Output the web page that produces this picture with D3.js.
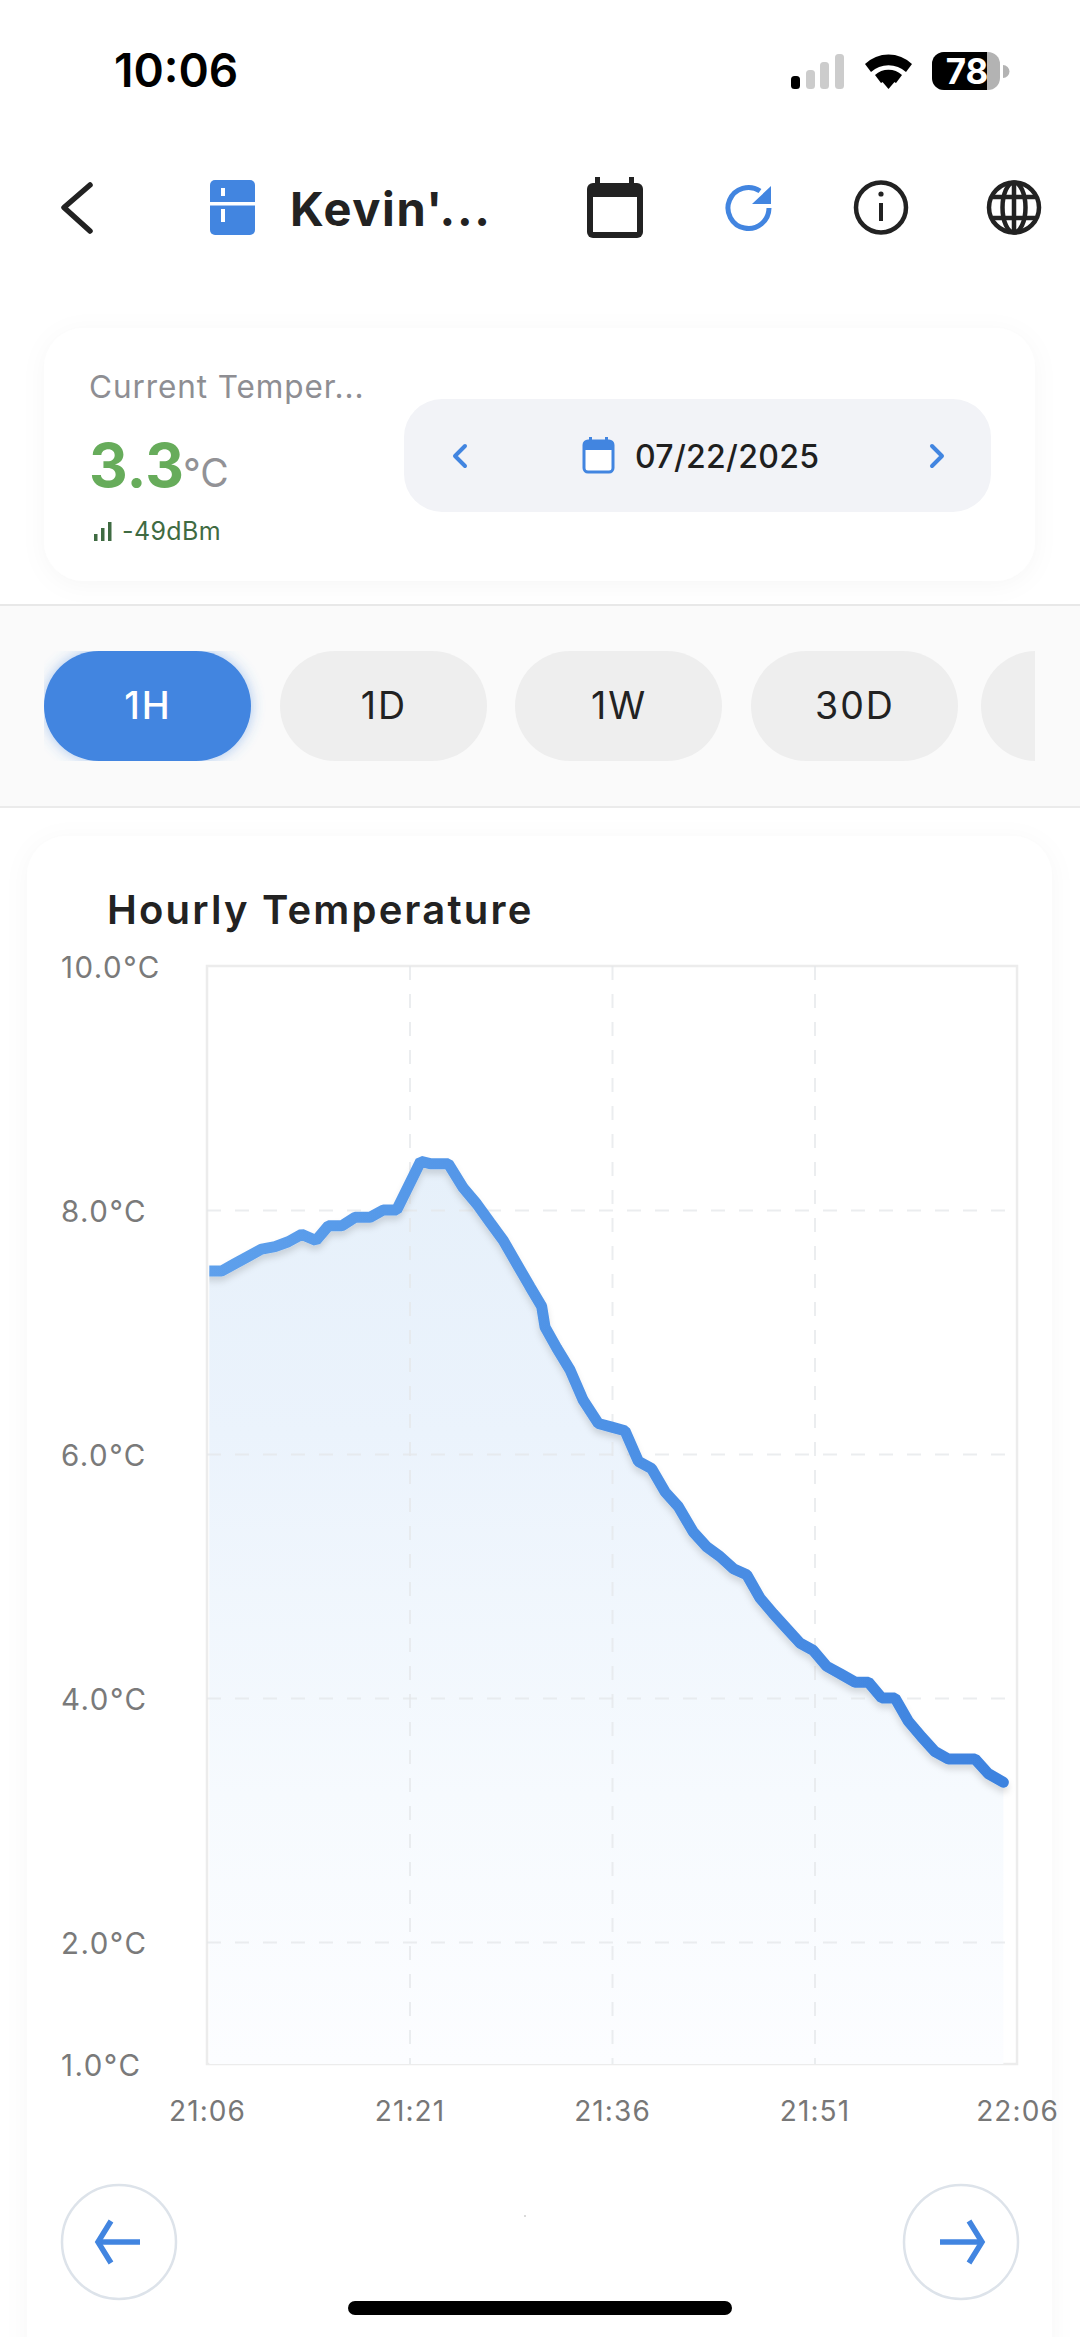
<!DOCTYPE html>
<html><head><meta charset="utf-8">
<script src="https://cdn.jsdelivr.net/npm/d3@7"></script>
<style>
html,body{margin:0;padding:0;background:#fff}
svg{display:block}
text{font-family:Inter,"Noto Sans",sans-serif}
</style></head><body>
<svg id="c" width="1080" height="2337" viewBox="0 0 1080 2337"></svg>
<script>
// ---- data ----
const minutes = [0.17,1.09,2.07,3.06,4.05,5.04,6.02,7.01,8.07,8.99,9.98,10.96,12.07,13.06,14.05,15.83,16.52,17.87,18.99,19.98,20.96,21.95,22.94,23.93,24.79,25.04,25.9,26.89,27.87,28.99,29.98,30.96,31.95,32.94,33.93,34.91,36.02,37.01,38.0,38.99,39.98,40.96,41.95,42.94,43.93,44.91,45.9,46.89,48.0,48.99,49.98,50.96,51.95,52.94,53.93,54.91,55.9,56.89,57.87,58.99];
const temps = [7.5,7.5,7.56,7.62,7.68,7.7,7.74,7.8,7.75,7.87,7.87,7.94,7.94,8.0,8.0,8.4,8.38,8.38,8.18,8.05,7.9,7.75,7.56,7.37,7.21,7.04,6.87,6.69,6.44,6.25,6.22,6.19,5.94,5.88,5.69,5.57,5.36,5.24,5.16,5.06,5.01,4.82,4.69,4.57,4.45,4.39,4.26,4.2,4.13,4.13,4.0,4.0,3.81,3.68,3.56,3.5,3.5,3.5,3.38,3.31];
const yTicks = [1,2,4,6,8,10];
const yTickLabels = ["1.0°C","2.0°C","4.0°C","6.0°C","8.0°C","10.0°C"];
const xTicks = [0,15,30,45,60];
const xTickLabels = ["21:06","21:21","21:36","21:51","22:06"];
const tabs = ["1H","1D","1W","30D",""];
const chartTitle = "Hourly Temperature";

const svg = d3.select("#c");
const BLUE = "#4285e0";
const defs = svg.append("defs");
const shadow = (id, dy, blur, op, col) => {
  const f = defs.append("filter").attr("id", id).attr("x","-20%").attr("y","-20%").attr("width","140%").attr("height","140%");
  f.append("feDropShadow").attr("dx",0).attr("dy",dy).attr("stdDeviation",blur).attr("flood-color",col||"#000").attr("flood-opacity",op);
};
shadow("cardShadow",4,12,0.035);
shadow("lineShadow",5,3,0.13);
shadow("tabGlow",0,7,0.45,BLUE);
defs.append("clipPath").attr("id","tabClip").append("rect").attr("x",44).attr("y",651).attr("width",991).attr("height",110);
defs.append("clipPath").attr("id","tabGlowClip").append("rect").attr("x",44).attr("y",651).attr("width",222).attr("height",110);

const txt = (x,y,s,size,col,w,anchor,ls) => svg.append("text").attr("x",x).attr("y",y).text(s)
  .attr("font-size",size).attr("fill",col).attr("font-weight",w||400).attr("text-anchor",anchor||"start")
  .attr("letter-spacing",ls||0);

// ---- status bar ----
txt(114,87,"10:06",46,"#000",600);
[[791,76,"#000"],[806,70,"#ccc"],[820,62,"#ccc"],[835,54,"#ccc"]].forEach(d=>
  svg.append("rect").attr("x",d[0]).attr("y",d[1]).attr("width",9).attr("height",89-d[1]).attr("rx",3.5).attr("fill",d[2]));
// wifi
svg.append("path").attr("d","M865 64 A34 34 0 0 1 912 64 L906 72 A26 26 0 0 0 871 72 Z").attr("fill","#000");
svg.append("path").attr("d","M875 75 A20 20 0 0 1 902 75 L896 83 A12 12 0 0 0 881 83 Z").attr("fill","#000");
svg.append("path").attr("d","M880 79 L897 79 L888.5 89 Z").attr("fill","#000");
// battery
svg.append("rect").attr("x",932).attr("y",52).attr("width",68).attr("height",38).attr("rx",12).attr("fill","#b3b3b3");
svg.append("path").attr("d","M944 52 H987 V90 H944 A12 12 0 0 1 932 78 V64 A12 12 0 0 1 944 52 Z").attr("fill","#000");
svg.append("path").attr("d","M1003 65 A6 6 0 0 1 1003 78 Z").attr("fill","#b3b3b3");
txt(967,84,"78",35,"#fff",700,"middle");

// ---- nav bar ----
svg.append("path").attr("d","M90 185 L64 207.5 L90 231").attr("fill","none").attr("stroke","#222").attr("stroke-width",5.5).attr("stroke-linecap","round").attr("stroke-linejoin","round");
svg.append("rect").attr("x",210).attr("y",180).attr("width",45).attr("height",55).attr("rx",5).attr("fill",BLUE);
svg.append("rect").attr("x",210).attr("y",202).attr("width",45).attr("height",3.5).attr("fill","#fff");
svg.append("rect").attr("x",221).attr("y",188).attr("width",4).attr("height",8).attr("fill","#fff");
svg.append("rect").attr("x",221).attr("y",209).attr("width",4).attr("height",13).attr("fill","#fff");
txt(290,226,"Kevin'...",47,"#222",700,"start",1.6);
// calendar
svg.append("rect").attr("x",587).attr("y",183).attr("width",56).attr("height",55).attr("rx",6).attr("fill","#222");
svg.append("rect").attr("x",593).attr("y",197).attr("width",44).attr("height",35).attr("fill","#fff");
svg.append("rect").attr("x",595).attr("y",177).attr("width",5).attr("height",10).attr("fill","#222");
svg.append("rect").attr("x",629).attr("y",177).attr("width",5).attr("height",10).attr("fill","#222");
// refresh
svg.append("path").attr("d","M760 191 A20.5 20.5 0 1 0 769 208").attr("fill","none").attr("stroke",BLUE).attr("stroke-width",5);
svg.append("path").attr("d","M771 186 L771 204 L752 204 Z").attr("fill",BLUE);
// info
svg.append("circle").attr("cx",881).attr("cy",207.5).attr("r",25).attr("fill","none").attr("stroke","#222").attr("stroke-width",4.5);
svg.append("rect").attr("x",879).attr("y",203).attr("width",4).attr("height",18).attr("fill","#222");
svg.append("circle").attr("cx",881).attr("cy",194).attr("r",2.6).attr("fill","#222");
// globe
const gl = svg.append("g").attr("fill","none").attr("stroke","#222").attr("stroke-width",4.5);
gl.append("circle").attr("cx",1014).attr("cy",207.5).attr("r",25);
gl.append("ellipse").attr("cx",1014).attr("cy",207.5).attr("rx",11.5).attr("ry",25);
gl.append("path").attr("d","M992 197 H1036 M992 218 H1036 M1014 182 V233");

// ---- current temperature card ----
svg.append("rect").attr("x",44).attr("y",328).attr("width",991).attr("height",253).attr("rx",40).attr("fill","#fff").attr("filter","url(#cardShadow)");
txt(89,398,"Current Temper...",31.5,"#8e8e93",400,"start",0.9);
txt(89,487,"3.3",60,"#67ac5b",700);
txt(183,487,"°C",39,"#929296",400);
[[94,534],[101,528],[108,522]].forEach(d=>svg.append("rect").attr("x",d[0]).attr("y",d[1]).attr("width",3.5).attr("height",541-d[1]).attr("fill","#3f6b42"));
txt(122,540,"-49dBm",25,"#3f6b42",400,"start",0.4);
svg.append("rect").attr("x",404).attr("y",399).attr("width",587).attr("height",113).attr("rx",38).attr("fill","#f2f3f7");
const chev = d => svg.append("path").attr("d",d).attr("fill","none").attr("stroke",BLUE).attr("stroke-width",4).attr("stroke-linecap","round").attr("stroke-linejoin","round");
chev("M465 446 L455 456 L465 466");
chev("M932 446 L942 456 L932 466");
svg.append("rect").attr("x",584).attr("y",441).attr("width",29).attr("height",31).attr("rx",4).attr("fill","#fff").attr("stroke",BLUE).attr("stroke-width",3);
svg.append("path").attr("d","M584 445 a4 4 0 0 1 4-4 H609 a4 4 0 0 1 4 4 V450 H584 Z").attr("fill",BLUE);
svg.append("rect").attr("x",589).attr("y",437).attr("width",3).attr("height",5).attr("fill",BLUE);
svg.append("rect").attr("x",605).attr("y",437).attr("width",3).attr("height",5).attr("fill",BLUE);
txt(635,468,"07/22/2025",32,"#1f1f1f",500,"start",0.3);

// ---- range tabs ----
svg.append("rect").attr("x",0).attr("y",605).attr("width",1080).attr("height",203).attr("fill","#fafafa");
svg.append("rect").attr("x",0).attr("y",604).attr("width",1080).attr("height",2).attr("fill","#e8e8e8");
svg.append("rect").attr("x",0).attr("y",806).attr("width",1080).attr("height",2).attr("fill","#ebebeb");
const tabX = [44,280,515,751,981];
const tabG = svg.append("g");
tabs.forEach((t,i)=>{
  const active = i===0;
  tabG.append("g").attr("clip-path", active?"url(#tabGlowClip)":"url(#tabClip)")
    .append("rect").attr("x",tabX[i]).attr("y",651).attr("width",207).attr("height",110).attr("rx",55)
    .attr("fill",active?BLUE:"#eeeeee").attr("filter",active?"url(#tabGlow)":null);
  if(t) txt(tabX[i]+104,719,t,37.5,active?"#fff":"#222",active?500:400,"middle",2);
});

// ---- chart card ----
svg.append("rect").attr("x",27).attr("y",836).attr("width",1025).attr("height",1560).attr("rx",40).attr("fill","#fff").attr("filter","url(#cardShadow)");
txt(107,924,chartTitle,40,"#222",600,"start",2.2);

const x = d3.scaleLinear().domain([0,60]).range([207,1017]);
const y = d3.scaleLinear().domain([1,10]).range([2064,966]);
const pts = minutes.map((m,i)=>[m,temps[i]]);

// area + line gradients
const ag = defs.append("linearGradient").attr("id","areaFill").attr("gradientUnits","userSpaceOnUse")
  .attr("x1",0).attr("x2",0).attr("y1",y(8.4)).attr("y2",y(1));
ag.append("stop").attr("offset",0).attr("stop-color","#e6f0fa");
ag.append("stop").attr("offset",0.3).attr("stop-color","#ebf3fc");
ag.append("stop").attr("offset",0.7).attr("stop-color","#f6fafe");
ag.append("stop").attr("offset",1).attr("stop-color","#fcfdff");
const lg = defs.append("linearGradient").attr("id","lineStroke").attr("gradientUnits","userSpaceOnUse")
  .attr("x1",x(0)).attr("x2",x(60)).attr("y1",0).attr("y2",0);
lg.append("stop").attr("offset",0).attr("stop-color","#5ea0ec");
lg.append("stop").attr("offset",1).attr("stop-color","#3d82df");
defs.append("clipPath").attr("id","lineClip").append("rect")
  .attr("x",x(minutes[0])).attr("y",y(10)).attr("width",x(60)-x(minutes[0])).attr("height",y(1)-y(10));

// plot frame
svg.append("rect").attr("x",x(0)).attr("y",y(10)).attr("width",x(60)-x(0)).attr("height",y(1)-y(10))
  .attr("fill","#fff").attr("stroke","#ececec").attr("stroke-width",2.5);

// area below the line
svg.append("path").datum(pts)
  .attr("d",d3.area().x(d=>x(d[0])).y0(y(1)).y1(d=>y(d[1])))
  .attr("fill","url(#areaFill)");

// dashed grid via the library's axes
const dash = "14 14";
const gridY = svg.append("g").attr("transform",`translate(${x(0)},0)`)
  .call(d3.axisRight(y).tickValues(yTicks.filter(v=>v>1&&v<10)).tickSize(x(60)-x(0)).tickFormat(""));
const gridX = svg.append("g").attr("transform",`translate(0,${y(10)})`)
  .call(d3.axisBottom(x).tickValues(xTicks.filter(v=>v>0&&v<60)).tickSize(y(1)-y(10)).tickFormat(""));
[gridY,gridX].forEach(g=>{
  g.select(".domain").remove();
  g.selectAll("line").attr("stroke","#e4e7ea").attr("stroke-opacity",0.75).attr("stroke-width",2).attr("stroke-dasharray",dash);
});

// line
svg.append("g").attr("clip-path","url(#lineClip)").append("path").datum(pts)
  .attr("d",d3.line().x(d=>x(d[0])).y(d=>y(d[1])))
  .attr("fill","none").attr("stroke","url(#lineStroke)").attr("stroke-width",11)
  .attr("stroke-linejoin","bevel").attr("stroke-linecap","round").attr("filter","url(#lineShadow)");

// axis labels
const axY = svg.append("g").attr("transform",`translate(61,0)`)
  .call(d3.axisRight(y).tickValues(yTicks).tickSize(0).tickPadding(0).tickFormat((d,i)=>yTickLabels[i]));
axY.select(".domain").remove();
axY.selectAll("text").attr("font-size",29.5).attr("fill","#7a7a7a").attr("text-anchor","start").attr("font-family","Inter").attr("letter-spacing",1.5).attr("dy","0.38em");
const axX = svg.append("g").attr("transform",`translate(0,${y(1)+57})`)
  .call(d3.axisBottom(x).tickValues(xTicks).tickSize(0).tickPadding(0).tickFormat((d,i)=>xTickLabels[i]));
axX.select(".domain").remove();
axX.selectAll("text").attr("font-size",28).attr("fill","#777").attr("font-family","Inter").attr("letter-spacing",1.1).attr("dy",null).attr("y",0);

// ---- pager buttons ----
[[119,-1],[961,1]].forEach(([cx,s])=>{
  svg.append("circle").attr("cx",cx).attr("cy",2242).attr("r",57).attr("fill","#fff").attr("stroke","#dde3ea").attr("stroke-width",2.5);
  const g = svg.append("g").attr("transform",`translate(${cx},2242) scale(${s},1)`).attr("fill","none").attr("stroke",BLUE).attr("stroke-width",5.5);
  g.append("path").attr("d","M-21 0 H20");
  g.append("path").attr("d","M8 -21 L21 0 L8 21");
});
svg.append("circle").attr("cx",525).attr("cy",2216).attr("r",0.8).attr("fill","#aaa");
svg.append("rect").attr("x",348).attr("y",2301).attr("width",384).attr("height",14).attr("rx",7).attr("fill","#000");
</script>
</body></html>
